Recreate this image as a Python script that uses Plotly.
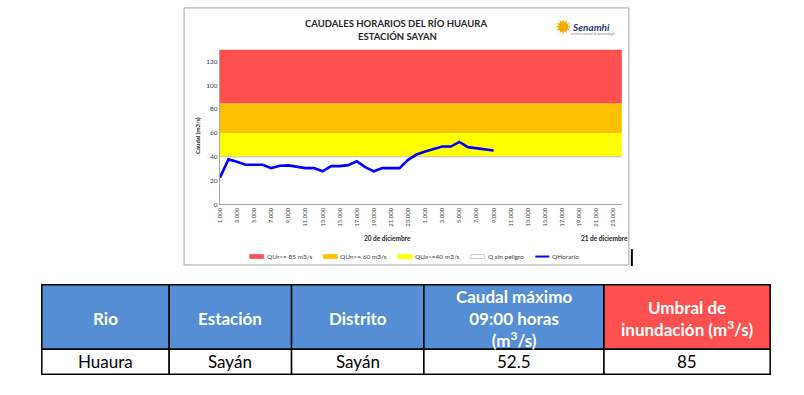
import plotly.graph_objects as go

W, H = 804, 395

def px(x):
    return x / W

def py(y):
    return 1 - y / H

# ---------------- data ----------------
hour_index = list(range(48))  # 1:00 (20 dic) ... 24:00 (21 dic)
tick_positions = list(range(0, 48, 2))
tick_labels = ["1.000", "3.000", "5.000", "7.000", "9.000", "11.000", "13.000", "15.000",
               "17.000", "19.000", "21.000", "23.000",
               "1.000", "3.000", "5.000", "7.000", "9.000", "11.000", "13.000", "15.000",
               "17.000", "19.000", "21.000", "23.000"]

q_horario = [22.5, 37.8, 35.8, 33.3, 33.3, 33.3, 30.5, 32.5, 32.8, 31.4, 30.5, 30.5,
             27.8, 32.2, 32.2, 33.0, 36.2, 31.3, 27.8, 30.5, 30.5, 30.5, 37.5, 41.9,
             44.5, 46.7, 48.6, 48.6, 52.5, 48.1, 47.2, 45.8, 45.3]

band_names = ["Q sin peligro", "QUa>=40 m3/s", "QUn>= 60 m3/s", "QUr>= 85 m3/s"]
band_tops = [40, 60, 85, 130]

y_ticks = [0, 20, 40, 60, 80, 100, 120]
day_labels = ["20 de diciembre", "21 de diciembre"]

legend_names = ["QUr>= 85 m3/s", "QUn>= 60 m3/s", "QUa>=40 m3/s", "Q sin peligro", "QHorario"]

table_header = ["Rio", "Estación", "Distrito",
                "Caudal máximo<br>09:00 horas<br>(m<sup>3</sup>/s)",
                "Umbral de<br>inundación (m<sup>3</sup>/s)"]
table_row = ["Huaura", "Sayán", "Sayán", "52.5", "85"]

# ---------------- styles / layout ----------------
band_colors = ["#FFFFFF", "#FFFF00", "#FFC000", "#FF5050"]
line_color = "#0000FF"
legend_colors = ["#FF5050", "#FFC000", "#FFFF00", "#FFFFFF", line_color]
legend_x = [247, 321, 396, 469, 534]          # px, swatch left edges
legend_y = 258.5
table_cols = [38, 166, 289, 422, 603, 770]    # px, column borders
table_rows = [287, 352, 377]                  # px, row borders
header_fills = ["#558ED5", "#558ED5", "#558ED5", "#558ED5", "#FF5050"]
font_family = "Lato, Liberation Sans, sans-serif"

# ---------------- figure ----------------
fig = go.Figure()

for i, (name, top, col) in enumerate(zip(band_names, band_tops, band_colors)):
    fig.add_trace(go.Scatter(
        x=hour_index, y=[top] * len(hour_index), name=name,
        mode="lines",
        line=dict(color="#BFBFBF" if i == 0 else col, width=1 if i == 0 else 0),
        fill="tozeroy" if i == 0 else "tonexty",
        fillcolor=col, hoverinfo="skip", showlegend=False,
    ))

fig.add_trace(go.Scatter(
    x=hour_index[:len(q_horario)], y=q_horario, name="QHorario",
    mode="lines", line=dict(color=line_color, width=2.6), showlegend=False,
))

fig.update_layout(
    width=W, height=H,
    margin=dict(l=0, r=0, t=0, b=0),
    paper_bgcolor="white", plot_bgcolor="white",
    font=dict(family=font_family, color="#404040"),
    showlegend=False,
    xaxis=dict(domain=[px(217), px(621)], range=[0, 47],
               tickmode="array", tickvals=tick_positions, ticktext=tick_labels,
               tickangle=-90, tickfont=dict(size=6, color="#404040"),
               showline=True, linecolor="#A6A6A6", linewidth=1,
               showgrid=False, zeroline=False, ticks="", fixedrange=True),
    yaxis=dict(domain=[py(206), py(50)], range=[0, 130],
               tickmode="array", tickvals=y_ticks,
               tickfont=dict(size=6.5, color="#404040"),
               showline=True, linecolor="#A6A6A6", linewidth=1,
               showgrid=False, zeroline=False, ticks="", fixedrange=True),
)

annotations = [
    dict(text="<b>CAUDALES HORARIOS DEL RÍO HUAURA</b>", x=px(394), y=py(23.5),
         font=dict(size=9.5, color="#262626")),
    dict(text="<b>ESTACIÓN SAYAN</b>", x=px(395), y=py(37),
         font=dict(size=9.5, color="#262626")),
    dict(text="<b>Caudal (m3/s)</b>", x=px(195), y=py(137), textangle=-90,
         font=dict(size=6, color="#1A1A1A")),
    dict(text="<b>" + day_labels[0] + "</b>", x=px(385), y=py(240),
         font=dict(size=6.5, color="#1A1A1A")),
    dict(text="<b>" + day_labels[1] + "</b>", x=px(603), y=py(240),
         font=dict(size=6.5, color="#1A1A1A")),
    dict(text="✹", x=px(562), y=py(27), font=dict(size=20, color="#F5A800",
                                                    family="DejaVu Sans")),
    dict(text="<b><i>Senamhi</i></b>", x=px(590), y=py(27),
         font=dict(size=10, color="#1F3A7A")),
    dict(text="servicio nacional de meteorología", x=px(592), y=py(34.5),
         font=dict(size=3, color="#808080")),
]

# manual legend
shapes = []
for i, (name, col) in enumerate(zip(legend_names, legend_colors)):
    x0 = legend_x[i]
    if i == len(legend_names) - 1:
        shapes.append(dict(type="line", x0=px(x0), x1=px(x0 + 14), y0=py(legend_y), y1=py(legend_y),
                           line=dict(color=col, width=2)))
    else:
        shapes.append(dict(type="rect", x0=px(x0), x1=px(x0 + 14),
                           y0=py(legend_y + 2), y1=py(legend_y - 2), fillcolor=col,
                           line=dict(color="#BFBFBF" if col == "#FFFFFF" else col, width=0.8)))
    annotations.append(dict(text=name, x=px(x0 + 15), y=py(legend_y), xanchor="left",
                            font=dict(size=6.5, color="#404040")))

# chart frame
shapes.append(dict(type="rect", x0=px(181), x1=px(628), y0=py(267), y1=py(8),
                   line=dict(color="#A6A6A6", width=1)))
shapes.append(dict(type="rect", x0=px(630), x1=px(632), y0=py(268), y1=py(251),
                   line=dict(width=0), fillcolor="black"))

# table
for c in range(len(table_header)):
    xa, xb = table_cols[c], table_cols[c + 1]
    shapes.append(dict(type="rect", x0=px(xa), x1=px(xb), y0=py(table_rows[1]), y1=py(table_rows[0]),
                       fillcolor=header_fills[c], line=dict(color="black", width=1.5), layer="below"))
    shapes.append(dict(type="rect", x0=px(xa), x1=px(xb), y0=py(table_rows[2]), y1=py(table_rows[1]),
                       fillcolor="white", line=dict(color="black", width=1.5), layer="below"))
    annotations.append(dict(text="<b>" + table_header[c] + "</b>", x=px((xa + xb) / 2),
                            y=py((table_rows[0] + table_rows[1]) / 2 + 1),
                            font=dict(size=17, color="white")))
    annotations.append(dict(text=table_row[c], x=px((xa + xb) / 2),
                            y=py((table_rows[1] + table_rows[2]) / 2),
                            font=dict(size=17, color="black")))

for a in annotations:
    a.setdefault("xanchor", "center")
    a.update(xref="paper", yref="paper", showarrow=False, yanchor="middle")
for s in shapes:
    s.update(xref="paper", yref="paper")

fig.update_layout(annotations=annotations, shapes=shapes)

fig.write_html("out.html", config={"displayModeBar": False},
               post_script="document.body.style.margin='0px';document.body.style.overflow='hidden';")
